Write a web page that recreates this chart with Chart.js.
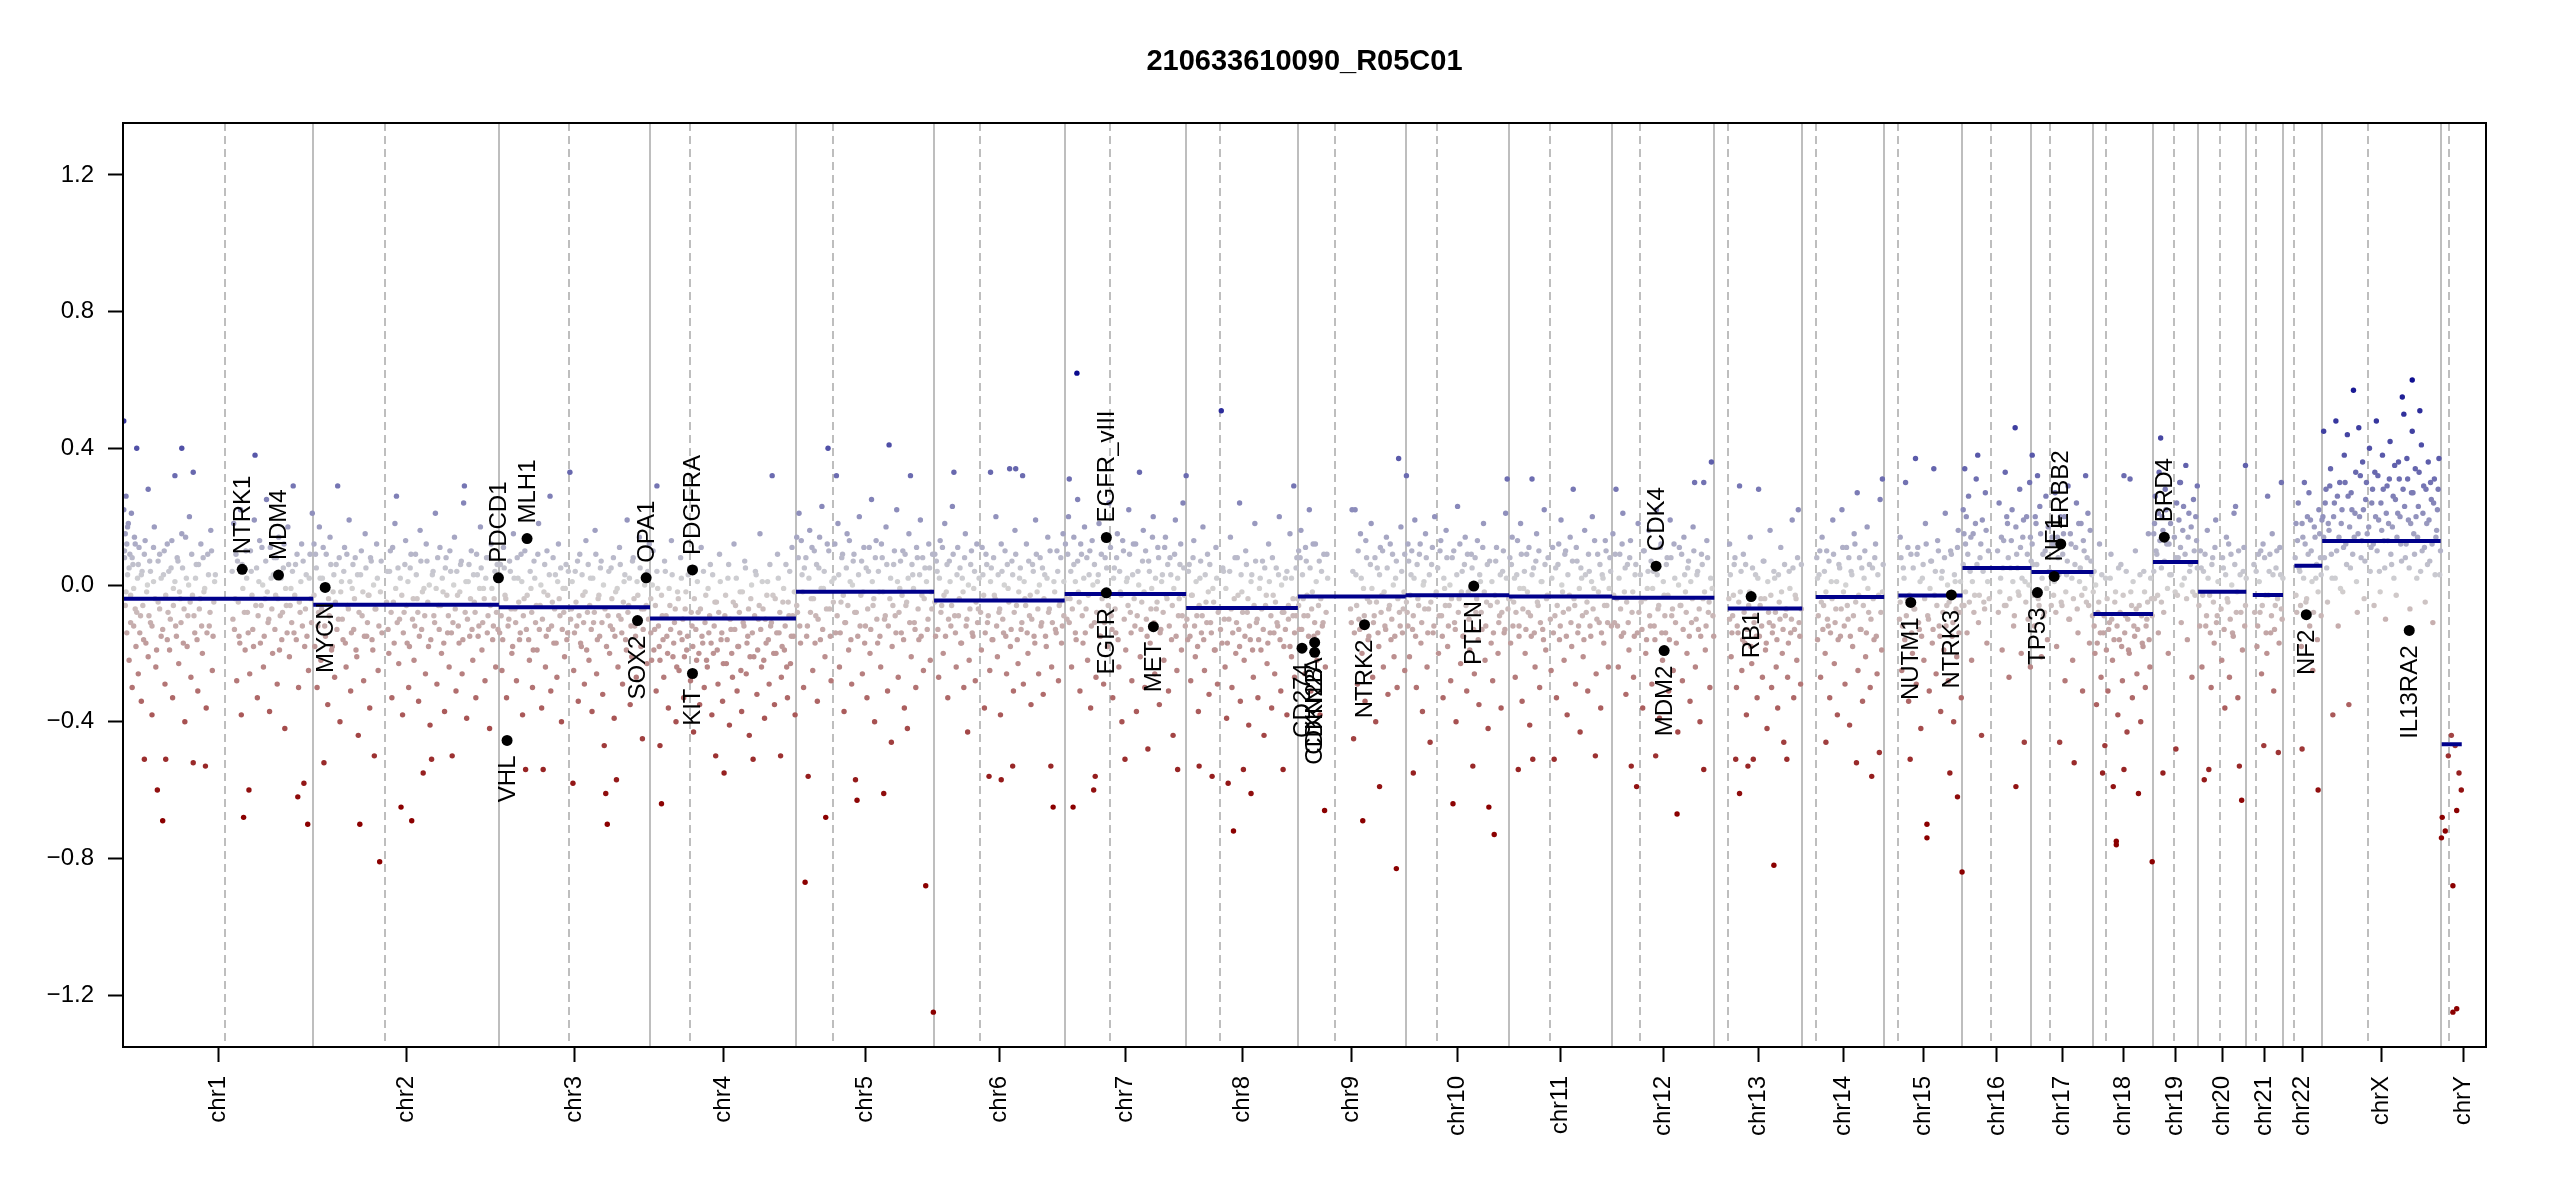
<!DOCTYPE html>
<html>
<head>
<meta charset="utf-8">
<script src="https://cdn.jsdelivr.net/npm/chart.js@4.4.1/dist/chart.umd.min.js"></script>
<style>
html,body{margin:0;padding:0;background:#fff;}
canvas{display:block;}
</style>
</head>
<body>
<canvas id="c" width="2550" height="1200"></canvas>
<script>
// ---------------- DATA ----------------
const chartTitle = "210633610090_R05C01";
const chrNames = ["chr1","chr2","chr3","chr4","chr5","chr6","chr7","chr8","chr9","chr10","chr11","chr12","chr13","chr14","chr15","chr16","chr17","chr18","chr19","chr20","chr21","chr22","chrX","chrY"];
// chromosome lengths (Mb)
const chrLen = [249.25,243.2,198.02,191.15,180.92,171.12,159.14,146.36,141.21,135.53,135.01,133.85,115.17,107.35,102.53,90.35,81.2,78.08,59.13,63.03,48.13,51.3,155.27,59.37];
// centromere (p/q boundary) position within chromosome (Mb)
const chrCentromere = [133.5,93.6,92.1,51.7,48.2,60.2,58.9,44.6,49.0,41.1,53.3,36.1,17.7,17.7,18.5,37.6,24.9,17.0,27.0,29.2,12.7,14.9,60.2,11.3];
const yTickValues = [-1.2,-0.8,-0.4,0,0.4,0.8,1.2];

// segments: chromosome index, start (Mb), end (Mb), log2 ratio
const segChr   = [0,1,2,3,4,5,6,7,8,9,10,11,12,13,14,15,16,17,18,19,20,21,22,23];
const segStart = [0,0,0,0,0,0,0,0,0,0,0,0,17.7,17.7,18.5,0,0,0,0,0,8.5,14.9,0,1.3];
const segEnd   = [249.25,243.2,198.02,191.15,180.92,171.12,159.14,146.36,141.21,135.53,135.01,133.85,115.17,107.35,102.53,90.35,81.2,78.08,59.13,63.03,48.13,51.3,155.27,27.6];
const segValue = [-0.040,-0.058,-0.065,-0.098,-0.020,-0.045,-0.026,-0.067,-0.034,-0.030,-0.034,-0.037,-0.069,-0.035,-0.031,0.050,0.038,-0.085,0.067,-0.020,-0.029,0.056,0.129,-0.466];

// highlighted genes
const geneNames = ["NTRK1","MDM4","MYCN","PDCD1","VHL","MLH1","SOX2","OPA1","PDGFRA","KIT","EGFR_vIII","EGFR","MET","CD274","CDKN2A","CDKN2B","NTRK2","PTEN","CDK4","MDM2","RB1","NUTM1","NTRK3","TP53","NF1","ERBB2","BRD4","NF2","IL13RA2"];
const geneChr   = [0,0,1,1,2,2,2,2,3,3,6,6,6,8,8,8,8,9,11,11,12,14,14,16,16,16,18,21,22];
const genePos   = [156.2,203.7,15.6,242.6,10.7,36.9,181.6,192.9,55.6,55.6,54.6,54.6,116.2,5.4,22.0,22.0,87.3,89.2,57.5,68.1,48.2,34.8,88.0,7.85,29.8,38.4,14.8,30.5,114.1];
const geneValue = [0.046,0.029,-0.007,0.021,-0.455,0.136,-0.104,0.021,0.044,-0.259,0.139,-0.023,-0.122,-0.185,-0.168,-0.197,-0.116,-0.003,0.055,-0.192,-0.034,-0.051,-0.029,-0.022,0.025,0.120,0.140,-0.087,-0.133];

// bins: [position within chromosome (Mb), log2 ratio x100]
const binsChr1 = [[1,48],[1,22],[2,8],[3,15],[3,-6],[4,26],[5,12],[5,-14],[6,3],[7,18],[8,-22],[9,9],[10,-3],[11,21],[12,-30],[13,6],[14,-12],[15,14],[16,-7],[18,40],[17,-18],[19,2],[20,-26],[21,11],[23,-9],[24,-34],[25,4],[27,-16],[28,-51],[29,13],[31,-2],[33,28],[33,-21],[35,7],[36,-11],[38,-38],[40,1],[41,17],[43,-24],[45,-60],[46,-5],[48,9],[50,-15],[52,-69],[53,3],[55,-29],[56,-51],[58,12],[59,-8],[61,-19],[63,5],[65,-33],[66,-1],[68,32],[69,-12],[71,8],[73,-23],[75,-4],[77,40],[77,15],[79,-17],[81,-40],[83,2],[85,-9],[87,20],[89,-27],[91,-3],[92,33],[92,-52],[94,-14],[96,6],[98,-31],[100,-7],[102,12],[104,-20],[106,-2],[108,-53],[109,-36],[111,9],[113,-12],[115,16],[117,-25],[119,-5],[121,3],[144,-10],[145,18],[147,-4],[149,-28],[150,7],[152,-15],[154,22],[155,-38],[157,-1],[158,-68],[160,-19],[161,10],[163,-8],[165,-60],[166,-26],[168,4],[170,-13],[172,19],[173,38],[174,-6],[176,-33],[178,1],[180,-17],[182,11],[184,-24],[186,-4],[188,25],[190,-11],[192,-37],[194,2],[196,-20],[198,8],[200,-3],[202,-29],[204,14],[206,-9],[208,-16],[210,5],[212,-42],[214,-6],[216,17],[218,-21],[220,-1],[223,29],[224,-14],[226,6],[229,-62],[230,-30],[232,-8],[234,12],[237,-58],[238,-18],[240,3],[242,-70],[243,-25],[245,9],[247,-11],[248,21],
[2,10],[4,-2],[6,17],[8,5],[10,-11],[12,8],[14,-1],[16,12],[18,-8],[20,6],[22,-14],[24,3],[26,-6],[28,9],[30,-17],[32,0],[34,-9],[36,4],[38,-12],[40,11],[42,-4],[44,-19],[46,7],[48,-7],[50,2],[52,-13],[54,10],[56,-3],[58,-16],[60,4],[62,-10],[64,13],[66,-6],[68,1],[70,-15],[72,7],[74,-2],[76,-11],[78,5],[80,-7],[82,14],[84,-18],[86,0],[88,-5],[90,9],[93,-9],[95,2],[97,-16],[99,6],[101,-4],[103,-12],[105,8],[107,-1],[110,-14],[112,3],[114,-8],[116,10],[118,-15],[120,1],[143,4],[146,-13],[148,9],[151,-5],[153,-17],[156,6],[159,-8],[162,2],[164,-14],[167,10],[169,-3],[171,-18],[175,5],[177,-9],[179,13],[181,-6],[183,0],[185,-15],[187,7],[189,-2],[191,-10],[193,11],[195,-7],[197,3],[199,-13],[201,8],[203,-4],[205,-19],[207,2],[209,-8],[211,12],[213,-1],[215,-14],[217,6],[219,-6],[221,-11],[222,4],[225,-3],[227,-16],[228,9],[231,-5],[233,1],[235,-12],[236,7],[239,-7],[241,-15],[244,2],[246,-4]];
const binsChr2 = [[1,12],[2,-18],[4,5],[5,-30],[7,-8],[8,17],[10,-22],[12,2],[14,-52],[15,-12],[17,9],[19,-35],[20,-4],[22,14],[24,-19],[26,-2],[28,-27],[30,6],[32,29],[33,-10],[35,-40],[37,1],[39,-16],[41,11],[43,-24],[45,-6],[47,19],[49,-31],[51,-1],[53,-13],[55,8],[57,-21],[59,-44],[61,-70],[62,3],[64,-9],[66,-28],[68,15],[70,-15],[72,-3],[74,-36],[76,7],[78,-19],[80,-50],[81,-7],[83,12],[85,-25],[87,-81],[88,-2],[90,-14],[97,4],[99,-20],[101,10],[103,-33],[105,-5],[107,18],[109,26],[110,-11],[112,-23],[114,2],[115,-65],[117,-38],[119,-8],[121,13],[123,-17],[125,-30],[127,5],[129,-69],[130,-10],[132,-22],[134,9],[136,-4],[138,-34],[140,16],[142,-13],[144,-55],[145,-1],[147,-26],[149,7],[151,-18],[153,-41],[155,-51],[156,3],[158,-9],[160,21],[162,-29],[164,-6],[166,11],[168,-20],[170,-2],[172,-37],[174,8],[176,-14],[178,-24],[180,4],[182,-50],[183,-11],[185,14],[187,-31],[189,-3],[191,-17],[193,6],[195,-26],[197,24],[198,29],[199,-8],[201,-39],[203,1],[205,-15],[207,10],[209,-22],[211,-5],[213,-33],[215,3],[217,-12],[219,17],[221,-19],[223,-1],[225,-28],[227,8],[229,-9],[231,-42],[233,12],[235,-16],[237,-4],[239,-24],[241,6],[242,-13],
[1,-3],[3,9],[6,-12],[9,2],[11,-7],[13,11],[16,-15],[18,0],[21,-9],[23,6],[25,-18],[27,3],[29,-5],[31,-13],[34,8],[36,-2],[38,-10],[40,4],[42,-17],[44,9],[46,-7],[48,1],[50,-14],[52,6],[54,-4],[56,-19],[58,3],[60,-8],[63,10],[65,-2],[67,-15],[69,5],[71,-11],[73,-3],[75,8],[77,-16],[79,0],[82,-7],[84,2],[86,-12],[89,7],[96,-5],[98,-13],[100,4],[102,-8],[104,11],[106,-17],[108,-1],[111,5],[113,-10],[116,-3],[118,-14],[120,6],[122,-6],[124,1],[126,-18],[128,9],[131,-4],[133,-12],[135,3],[137,-8],[139,-15],[141,7],[143,-2],[146,-9],[148,12],[150,-5],[152,0],[154,-16],[157,4],[159,-11],[161,-1],[163,8],[165,-13],[167,-6],[169,2],[171,-17],[173,5],[175,-3],[177,-9],[179,10],[181,-14],[184,0],[186,-7],[188,4],[190,-12],[192,-2],[194,7],[196,-16],[200,1],[202,-10],[204,6],[206,-4],[208,-13],[210,3],[212,-8],[214,9],[216,-15],[218,-1],[220,5],[222,-11],[224,-4],[226,2],[228,-14],[230,8],[232,-6],[234,-1],[236,-12],[238,4],[240,-8]];
const binsChr3 = [[1,-14],[2,6],[4,-25],[6,11],[8,-3],[10,-33],[11,-45],[13,-10],[15,4],[17,-20],[19,15],[21,-7],[23,-28],[25,2],[27,-16],[29,9],[31,-38],[33,-4],[35,-54],[36,-13],[38,14],[40,-22],[42,-1],[44,-30],[46,7],[48,-11],[50,-19],[52,18],[54,-6],[56,-36],[58,-54],[59,-2],[61,-24],[63,10],[65,-13],[67,26],[68,-31],[70,-5],[72,-17],[74,3],[76,-27],[78,12],[80,-9],[82,-40],[84,-1],[86,-21],[88,6],[90,-14],[93,33],[95,-7],[97,-58],[98,-25],[100,4],[102,-12],[104,-34],[106,9],[108,-18],[110,-3],[112,-29],[114,13],[116,-8],[118,-22],[120,2],[122,-37],[124,-11],[126,16],[128,-26],[130,-4],[132,-15],[134,7],[136,-32],[138,-47],[140,-61],[142,-70],[143,-9],[145,-20],[147,5],[149,-13],[151,-39],[153,-2],[154,-57],[156,-24],[158,11],[160,-10],[162,-29],[164,1],[166,-16],[168,19],[170,-6],[172,-35],[174,-21],[176,8],[178,-12],[180,-27],[182,-3],[184,14],[186,-18],[188,-45],[190,-7],[192,3],[194,-23],[196,-10],[197,12],
[1,3],[3,-9],[5,-16],[7,5],[9,-4],[12,-12],[14,7],[16,-7],[18,-18],[20,2],[22,-11],[24,8],[26,-5],[28,-14],[30,1],[32,-9],[34,10],[37,-3],[39,-16],[41,4],[43,-8],[45,-19],[47,2],[49,-6],[51,9],[53,-13],[55,0],[57,-10],[60,6],[62,-15],[64,-3],[66,3],[69,-12],[71,8],[73,-7],[75,-17],[77,1],[79,-4],[81,5],[83,-13],[85,-8],[87,-1],[89,-16],[91,4],[94,-10],[96,1],[99,-14],[101,-5],[103,7],[105,-9],[107,-17],[109,3],[111,-11],[113,-2],[115,-19],[117,6],[119,-6],[121,-13],[123,2],[125,-8],[127,9],[129,-16],[131,-3],[133,5],[135,-11],[137,0],[139,-7],[141,-18],[144,4],[146,-12],[148,-4],[150,8],[152,-15],[155,-1],[157,-9],[159,6],[161,-14],[163,-5],[165,3],[167,-19],[169,-8],[171,2],[173,-12],[175,7],[177,-4],[179,-15],[181,1],[183,-10],[185,5],[187,-7],[189,-13],[191,0],[193,-6],[195,4]];
const binsChr4 = [[1,-4],[2,-22],[4,10],[6,-13],[8,-31],[9,29],[10,-1],[12,-18],[13,-47],[15,-64],[16,-9],[18,-27],[20,4],[22,-15],[24,-36],[26,-6],[28,13],[30,-21],[32,-11],[34,-40],[36,-2],[38,-25],[40,8],[42,-16],[44,-33],[46,-7],[48,-19],[50,3],[53,-28],[55,-12],[57,-43],[59,5],[61,-22],[63,-8],[65,-35],[67,11],[69,-17],[71,-30],[73,-3],[75,-24],[77,-14],[79,6],[81,-38],[83,-20],[86,-50],[87,-5],[89,-29],[91,9],[93,-16],[95,-34],[97,-55],[98,-9],[100,-23],[102,2],[104,-41],[106,-13],[108,-27],[110,12],[112,-6],[114,-31],[116,-18],[118,-2],[120,-37],[122,-11],[124,7],[126,-26],[128,-15],[130,-44],[132,-4],[135,-51],[136,-21],[138,4],[140,-32],[142,-10],[144,15],[146,-24],[148,-7],[150,-39],[152,-17],[154,1],[156,-29],[158,-12],[160,32],[161,-3],[163,-35],[165,-20],[167,9],[169,-14],[171,-50],[172,-27],[174,-5],[176,-19],[178,6],[180,-33],[182,-9],[184,-23],[186,11],[188,-15],[190,-38],
[1,-14],[3,0],[5,-19],[7,-6],[9,4],[11,-12],[13,-22],[15,-3],[17,-16],[19,7],[21,-9],[23,-20],[25,-1],[27,-13],[29,3],[31,-17],[33,-7],[35,-24],[37,-4],[39,-14],[41,2],[43,-10],[45,-21],[47,-2],[49,-15],[52,5],[54,-8],[56,-18],[58,-4],[60,-13],[62,1],[64,-20],[66,-7],[68,-15],[70,4],[72,-11],[74,-22],[76,-1],[78,-9],[80,-17],[82,3],[84,-12],[85,-5],[88,-19],[90,-8],[92,1],[94,-14],[96,-23],[99,-3],[101,-16],[103,6],[105,-10],[107,-20],[109,-5],[111,-13],[113,2],[115,-18],[117,-8],[119,-25],[121,-2],[123,-12],[125,5],[127,-17],[129,-7],[131,-21],[133,0],[134,-14],[137,-9],[139,3],[141,-19],[143,-6],[145,-13],[147,1],[149,-22],[151,-10],[153,-3],[155,-16],[157,6],[159,-11],[162,-20],[164,-4],[166,-14],[168,2],[170,-8],[173,-18],[175,-1],[177,-12],[179,-24],[181,-5],[183,4],[185,-15],[187,-9],[189,-2]];
const binsChr5 = [[1,14],[2,-8],[4,21],[6,-17],[8,3],[10,-30],[12,-87],[13,8],[15,-12],[16,-56],[18,16],[20,-4],[22,-25],[24,10],[26,-9],[28,-34],[30,5],[32,-16],[34,23],[36,-1],[38,-21],[39,-68],[41,12],[42,40],[44,-7],[46,-28],[50,2],[52,-14],[53,32],[55,18],[57,-24],[59,-5],[61,9],[63,-37],[65,-11],[67,15],[69,-19],[71,1],[73,-29],[75,7],[77,-8],[78,-57],[80,-63],[81,-15],[83,20],[85,-3],[87,-26],[89,11],[91,-12],[93,-33],[95,4],[97,-20],[99,25],[101,-6],[103,-40],[105,13],[107,-17],[109,-2],[111,-24],[113,8],[115,-61],[116,-10],[118,17],[120,-31],[122,41],[123,-4],[125,-46],[126,-18],[128,6],[130,-9],[132,22],[134,-27],[136,-1],[138,-14],[140,10],[142,-36],[144,-6],[146,-42],[148,15],[150,32],[151,-21],[153,3],[155,-11],[157,-30],[159,8],[161,-16],[163,19],[165,-3],[167,-25],[169,5],[170,-88],[172,-13],[174,12],[176,-22],[178,-7],[180,-125],
[1,-6],[3,8],[5,-12],[7,13],[9,-2],[11,5],[14,-15],[17,2],[19,-8],[21,11],[23,-4],[25,-17],[27,6],[29,-10],[31,14],[33,-1],[35,-13],[37,4],[40,-7],[43,10],[45,-15],[47,1],[49,-5],[51,12],[54,-9],[56,3],[58,-14],[60,8],[62,-3],[64,-11],[66,5],[68,-6],[70,13],[72,-16],[74,0],[76,9],[79,-8],[82,3],[84,-12],[86,7],[88,-2],[90,-17],[92,5],[94,-7],[96,11],[98,-13],[100,1],[102,-4],[104,8],[106,-10],[108,4],[110,-15],[112,12],[114,-2],[117,-9],[119,6],[121,-12],[124,2],[127,-6],[129,10],[131,-14],[133,1],[135,-8],[137,7],[139,-3],[141,-16],[143,9],[145,-5],[147,2],[149,-11],[152,6],[154,-1],[156,-13],[158,11],[160,-7],[162,3],[164,-15],[166,8],[168,-4],[171,1],[173,-10],[175,5],[177,-2],[179,9]];
const binsChr6 = [[1,9],[2,-15],[4,4],[6,-27],[8,13],[10,-6],[12,-20],[14,18],[16,-2],[18,-33],[20,7],[22,-12],[24,23],[26,33],[27,-9],[29,-24],[31,11],[33,-4],[35,-17],[37,2],[39,-30],[41,15],[43,-10],[44,-43],[46,-22],[48,6],[50,-14],[52,-1],[54,-28],[56,12],[58,-7],[62,-19],[64,3],[66,-36],[68,9],[70,-11],[72,-56],[73,-25],[74,33],[75,5],[77,-16],[79,-3],[81,20],[83,-21],[85,-8],[87,-38],[88,-57],[89,4],[91,-14],[93,10],[95,-26],[97,-1],[99,34],[100,-18],[102,7],[103,-53],[104,-31],[106,16],[107,34],[108,-6],[110,-23],[112,2],[114,-13],[116,32],[117,-29],[119,-4],[121,12],[123,-20],[125,-9],[127,-35],[129,6],[131,-15],[133,19],[135,-2],[137,-26],[139,8],[141,-11],[143,-32],[145,3],[147,-18],[149,14],[151,-7],[153,-53],[154,-24],[156,-65],[157,1],[159,-13],[161,10],[163,-28],[165,-5],[167,-17],[169,15],[170,-9],
[1,-5],[3,7],[5,-13],[7,2],[9,-8],[11,11],[13,-3],[15,-15],[17,6],[19,-10],[21,1],[23,-6],[25,9],[28,-14],[30,3],[32,-9],[34,5],[36,-17],[38,-2],[40,8],[42,-12],[45,0],[47,-7],[49,10],[51,-15],[53,4],[55,-5],[57,-11],[59,2],[61,-8],[63,11],[65,-3],[67,-14],[69,6],[71,-9],[74,1],[76,-16],[78,8],[80,-4],[82,-12],[84,3],[86,-7],[88,12],[90,-10],[92,0],[94,-15],[96,6],[98,-5],[101,-13],[103,3],[105,-8],[107,9],[109,-16],[111,-2],[113,5],[115,-11],[118,1],[120,-6],[122,-14],[124,7],[126,-3],[128,-10],[130,4],[132,-17],[134,9],[136,-7],[138,0],[140,-12],[142,5],[144,-4],[146,-15],[148,2],[150,-8],[152,10],[155,-11],[158,-2],[160,-14],[162,4],[164,-6],[166,8],[168,-12],[170,1]];
const binsChr7 = [[1,12],[3,-10],[5,20],[6,31],[7,-4],[9,-24],[11,-65],[12,6],[14,-14],[16,62],[17,25],[18,-2],[20,-31],[22,9],[24,-17],[26,17],[28,-7],[30,-22],[32,3],[34,-36],[36,13],[38,-60],[39,-11],[40,-56],[41,-27],[43,1],[45,18],[47,-15],[49,-4],[51,-29],[53,8],[56,-18],[58,24],[61,-9],[63,-33],[65,5],[67,-14],[69,15],[71,-24],[73,-2],[75,-40],[77,10],[79,-51],[80,-19],[82,2],[84,22],[86,-8],[88,-28],[90,12],[92,-12],[94,-37],[96,4],[98,33],[99,-21],[101,-5],[103,16],[105,-30],[107,-10],[109,-48],[110,7],[112,-17],[114,-1],[116,20],[118,-26],[120,-7],[122,11],[124,-35],[126,-13],[128,3],[130,-22],[132,14],[134,-4],[136,-31],[138,8],[140,-16],[142,-44],[143,-1],[145,19],[147,-25],[148,-54],[149,-9],[151,6],[153,-19],[155,24],[157,-3],[158,-12],
[2,-4],[4,9],[6,-11],[8,4],[10,-7],[12,14],[14,1],[15,-16],[17,7],[19,-5],[21,12],[23,-9],[25,2],[27,-14],[29,8],[31,-3],[33,10],[35,-12],[37,0],[39,6],[42,-8],[44,3],[46,-15],[48,9],[50,-2],[52,-11],[55,5],[57,-6],[60,11],[62,-13],[64,2],[66,-7],[68,8],[70,-16],[72,4],[74,-3],[76,13],[78,-10],[81,1],[83,-6],[85,9],[87,-14],[89,3],[91,-4],[93,12],[95,-9],[97,0],[100,-13],[102,7],[104,-2],[106,10],[108,-15],[111,4],[113,-7],[115,14],[117,-11],[119,2],[121,-5],[123,8],[125,-14],[127,1],[129,-8],[131,11],[133,-3],[135,6],[137,-12],[139,3],[141,-6],[144,9],[146,-15],[148,2],[150,-4],[152,12],[154,-9],[156,5]];
const binsChr8 = [[0,32],[2,-16],[4,6],[6,-28],[8,-3],[10,13],[12,-21],[14,-9],[16,-37],[17,-53],[18,2],[20,-14],[22,17],[24,-25],[26,-5],[28,9],[30,-32],[32,-11],[34,-56],[35,-1],[37,-19],[39,11],[41,-29],[43,-7],[46,51],[47,-17],[49,4],[51,-24],[53,-39],[55,-58],[56,-10],[58,14],[60,-30],[62,-72],[63,-4],[65,-20],[67,8],[69,-13],[70,24],[71,-34],[73,-2],[75,-54],[76,-22],[78,10],[80,-8],[82,-41],[84,-16],[85,-61],[86,3],[88,-27],[90,18],[92,-11],[94,-33],[96,-1],[98,-19],[100,7],[102,-44],[104,-6],[106,-23],[108,12],[110,-14],[112,-36],[114,-3],[116,-26],[118,5],[120,-12],[122,20],[124,-31],[126,-8],[127,-54],[128,-18],[130,2],[132,-38],[134,-10],[136,15],[138,-21],[140,-4],[141,29],[142,-27],[144,-9],[145,8],
[1,-10],[3,4],[5,-15],[7,-3],[9,8],[11,-12],[13,1],[15,-18],[17,-6],[19,7],[21,-9],[23,-16],[25,3],[27,-11],[29,-2],[31,6],[33,-14],[36,-5],[38,-19],[40,2],[42,-8],[45,-13],[48,5],[50,-10],[52,-1],[54,-17],[57,4],[59,-7],[61,-14],[64,8],[66,-11],[68,-3],[70,-18],[72,3],[74,-8],[77,-15],[79,6],[81,-4],[83,-12],[85,1],[87,-19],[89,-6],[91,7],[93,-10],[95,-16],[97,2],[99,-7],[101,-13],[103,5],[105,-3],[107,-17],[109,1],[111,-9],[113,8],[115,-14],[117,-5],[119,-11],[121,3],[123,-16],[125,0],[128,-8],[130,-13],[132,4],[134,-6],[136,-18],[138,2],[140,-9],[142,-14],[144,5],[146,-4]];
const binsChr9 = [[1,10],[2,-13],[4,16],[5,-19],[7,-4],[9,-26],[11,7],[13,-9],[15,22],[17,-31],[19,-2],[21,-15],[23,12],[25,-22],[27,-6],[29,-38],[31,4],[33,-11],[35,-66],[36,-24],[38,9],[69,-7],[71,22],[73,-45],[74,-14],[75,22],[76,3],[78,-29],[80,-10],[82,15],[84,-20],[85,-69],[86,-1],[88,-34],[90,8],[92,-16],[94,-5],[96,18],[98,-27],[100,-9],[102,-40],[104,5],[106,-18],[107,-59],[108,11],[110,-3],[112,-24],[114,-12],[116,14],[118,-32],[120,-6],[122,-16],[124,9],[126,-21],[128,2],[129,-83],[130,-30],[132,37],[133,-8],[135,17],[137,-14],[139,-2],[140,-25],
[1,-6],[3,8],[5,-13],[6,3],[8,-9],[10,11],[12,-3],[14,-15],[16,5],[18,-7],[20,12],[22,-11],[24,1],[26,-14],[28,7],[30,-4],[32,-12],[34,9],[37,-8],[39,2],[70,-11],[72,4],[77,-6],[79,10],[81,-13],[83,2],[87,-9],[89,13],[91,-4],[93,-15],[95,6],[97,-1],[99,-11],[101,8],[103,-5],[105,-14],[107,3],[109,-8],[111,10],[113,-2],[115,-13],[117,5],[119,-7],[121,12],[123,-10],[125,0],[127,-15],[129,7],[131,-4],[134,-12],[136,4],[138,-7],[140,9]];
const binsChr10 = [[1,32],[2,-8],[3,12],[5,-21],[7,3],[9,-13],[10,-55],[12,19],[14,-30],[16,-4],[18,9],[20,-17],[22,-37],[24,1],[26,15],[28,-24],[30,-7],[32,-46],[34,6],[36,-14],[38,20],[39,-3],[43,-20],[45,10],[47,-9],[49,-33],[51,-1],[53,16],[55,-18],[57,-6],[59,-28],[61,8],[62,-64],[64,-11],[66,-40],[68,23],[70,-4],[72,-23],[74,4],[76,-15],[78,14],[80,-31],[82,-2],[84,-19],[86,9],[88,-53],[90,-26],[92,-8],[94,13],[96,-35],[98,1],[100,-13],[102,18],[104,-22],[106,-5],[108,-42],[109,-65],[110,7],[112,-17],[114,-28],[116,-73],[117,-3],[119,11],[121,-20],[123,-9],[125,-36],[127,4],[129,-14],[131,21],[133,31],[134,-7],
[1,-5],[3,-12],[4,7],[6,-3],[8,10],[10,-9],[11,2],[13,-15],[15,6],[17,-6],[19,12],[21,-11],[23,0],[25,-7],[27,8],[29,-14],[31,3],[33,-5],[35,11],[37,-12],[40,-2],[42,5],[44,-9],[46,13],[48,-15],[50,2],[52,-6],[54,8],[56,-12],[58,0],[60,-4],[63,10],[65,-13],[67,3],[69,-8],[71,12],[73,-2],[75,-15],[77,6],[79,-6],[81,9],[83,-10],[85,-1],[87,5],[89,-13],[91,8],[93,-4],[95,-16],[97,3],[99,-8],[101,11],[103,-2],[105,-12],[107,6],[111,-6],[113,1],[115,-14],[118,7],[120,-5],[122,-11],[124,3],[126,-8],[128,10],[130,-13],[132,2],[135,-4]];
const binsChr11 = [[1,8],[2,-17],[4,14],[6,-5],[8,-27],[10,3],[12,-54],[13,-12],[15,18],[17,-34],[19,-1],[21,-20],[23,9],[25,-8],[27,-41],[29,-15],[30,31],[31,-51],[32,5],[34,-24],[36,15],[38,-6],[40,-30],[42,1],[44,-13],[46,22],[48,-19],[50,-3],[55,-25],[57,11],[59,-51],[60,-9],[62,-33],[64,6],[66,-16],[68,19],[70,-2],[72,-22],[74,10],[76,-38],[78,-7],[80,14],[82,-18],[84,28],[85,-4],[87,-29],[89,7],[91,-12],[93,-43],[95,2],[97,-21],[99,16],[101,-8],[103,-31],[105,4],[107,-15],[109,20],[111,-1],[113,-50],[114,-26],[116,9],[118,-11],[120,-36],[122,3],[124,-17],[126,13],[128,-6],[130,-24],[132,8],[134,-12],
[1,-4],[3,6],[5,-12],[7,2],[9,-8],[11,13],[13,-15],[14,-1],[16,9],[18,-7],[20,4],[22,-13],[24,-2],[26,11],[28,-9],[30,3],[33,-14],[35,7],[37,-5],[39,10],[41,-11],[43,1],[45,-16],[47,6],[49,-4],[51,8],[54,-10],[56,2],[58,-14],[61,5],[63,-6],[65,12],[67,-12],[69,0],[71,-8],[73,9],[75,-15],[77,3],[79,-3],[81,-11],[83,7],[86,-6],[88,11],[90,-14],[92,-1],[94,5],[96,-9],[98,-16],[100,3],[102,-5],[104,9],[106,-12],[108,1],[110,-7],[112,13],[115,-10],[117,-2],[119,6],[121,-14],[123,2],[125,-6],[127,10],[129,-11],[131,-1],[133,4]];
const binsChr12 = [[1,15],[3,-11],[5,28],[6,-4],[8,-24],[10,9],[12,-15],[14,21],[16,-2],[18,-32],[20,6],[22,-19],[24,13],[25,-53],[26,-8],[28,-27],[30,3],[32,-59],[33,-14],[34,18],[38,-5],[40,-36],[42,10],[44,-20],[46,-1],[48,16],[50,-12],[52,-29],[54,4],[56,-16],[57,-50],[58,22],[60,-7],[62,-39],[64,12],[66,-22],[68,-3],[70,-14],[72,8],[74,-31],[76,19],[78,-9],[80,-25],[82,2],[84,-17],[85,-67],[86,-43],[88,11],[90,-6],[92,-28],[94,14],[96,-2],[98,-20],[100,7],[102,-34],[104,-11],[106,17],[108,30],[109,-24],[111,3],[113,-13],[115,-40],[117,9],[119,-4],[120,30],[120,-54],[122,-19],[124,13],[126,-8],[128,-30],[130,36],[131,-1],[133,-15],
[2,-3],[4,9],[7,-12],[9,2],[11,-7],[13,12],[15,-14],[17,5],[19,-5],[21,-11],[23,8],[27,-2],[29,-15],[31,6],[35,-8],[37,3],[39,-13],[41,10],[43,-4],[45,-16],[47,4],[49,-9],[51,7],[53,-1],[55,-12],[59,3],[61,-6],[63,11],[65,-14],[67,1],[69,-9],[71,6],[73,-3],[75,-16],[77,8],[79,-7],[81,12],[83,-11],[87,0],[89,-6],[91,9],[93,-13],[95,3],[97,-8],[99,5],[101,-15],[103,1],[105,-4],[107,10],[110,-10],[112,4],[114,-7],[116,-15],[118,6],[121,-2],[123,-12],[125,8],[127,-5],[129,2],[132,-9]];
const binsChr13 = [[19,-4],[20,12],[22,-21],[24,-9],[26,6],[28,-51],[29,-30],[31,-14],[33,29],[33,-61],[34,-2],[36,-25],[38,9],[40,-17],[42,-38],[44,-53],[45,-6],[47,14],[49,-23],[51,-51],[52,-11],[54,3],[56,-33],[58,28],[59,-15],[61,-4],[63,-27],[65,7],[67,-19],[69,-42],[71,-8],[73,16],[75,-30],[77,-12],[78,-82],[79,2],[81,-24],[83,-36],[85,-5],[87,11],[89,-20],[91,-46],[93,-9],[95,-51],[96,-27],[98,4],[100,-14],[102,19],[104,-33],[106,-3],[108,-22],[110,22],[111,-11],[113,-29],[114,6],
[20,-10],[21,3],[23,-14],[25,-3],[27,8],[30,-12],[32,-5],[35,4],[37,-16],[39,-8],[41,6],[43,-13],[46,-2],[48,-18],[50,5],[53,-9],[55,-15],[57,2],[60,-6],[62,-12],[64,7],[66,-4],[68,-17],[70,1],[72,-11],[74,-3],[76,-14],[78,4],[80,-8],[82,-16],[84,3],[86,-10],[88,-2],[90,-13],[92,6],[94,-7],[97,-17],[99,-1],[101,-10],[103,5],[105,-13],[107,-4],[109,8],[112,-15],[114,-7]];
const binsChr14 = [[19,8],[20,-16],[22,3],[24,-27],[26,14],[28,-6],[30,-20],[31,-46],[32,10],[34,-12],[36,-33],[38,1],[40,19],[42,-23],[44,-7],[46,-38],[48,6],[50,-15],[52,22],[54,-2],[56,-29],[58,11],[60,-10],[62,-41],[64,4],[66,-18],[68,15],[70,-5],[71,-52],[72,27],[73,-25],[75,8],[77,-13],[79,-34],[81,2],[83,-21],[85,17],[87,-8],[89,-30],[91,-56],[92,5],[94,-16],[96,12],[98,-26],[100,-3],[101,-49],[102,25],[104,-19],[105,31],[106,6],
[20,2],[21,-9],[23,10],[25,-5],[27,-13],[29,4],[31,-2],[33,-10],[35,7],[37,-14],[39,-4],[41,9],[43,-11],[45,1],[47,-16],[49,5],[51,-7],[53,11],[55,-12],[57,0],[59,-6],[61,8],[63,-15],[65,3],[67,-9],[69,12],[74,-3],[76,-13],[78,5],[80,-6],[82,10],[84,-14],[86,-1],[88,6],[90,-10],[93,-4],[95,8],[97,-15],[99,3],[103,-8],[105,-2]];
const binsChr15 = [[20,-10],[21,14],[23,-25],[25,5],[27,-16],[28,30],[30,-4],[32,-34],[34,-51],[35,9],[37,-20],[39,-7],[41,37],[42,-29],[44,11],[46,-13],[48,-42],[50,2],[52,-22],[54,18],[56,-70],[56,-74],[57,-9],[59,-31],[61,7],[63,-17],[65,34],[66,-3],[68,-26],[70,13],[72,-12],[74,-37],[76,4],[78,-19],[80,21],[82,-6],[84,-28],[86,-55],[87,10],[89,-15],[91,-40],[93,1],[95,-21],[96,-62],[97,16],[99,-8],[101,-33],[102,-84],
[21,-5],[22,8],[24,-12],[26,2],[29,-9],[31,11],[33,-3],[36,-14],[38,5],[40,-7],[43,9],[45,-11],[47,1],[49,-15],[51,6],[53,-4],[55,12],[58,-10],[60,-1],[62,7],[64,-13],[67,4],[69,-6],[71,10],[73,-15],[75,2],[77,-8],[79,8],[81,-12],[83,0],[85,-5],[88,9],[90,-11],[92,3],[94,-7],[96,11],[98,-14],[100,1],[102,-6]];
const binsChr16 = [[1,22],[2,-6],[3,34],[4,12],[6,-14],[8,26],[10,4],[12,-22],[14,15],[16,-3],[18,31],[20,38],[21,-11],[23,8],[25,-44],[26,19],[28,-5],[30,27],[32,-17],[34,10],[47,-8],[48,24],[50,2],[52,-19],[54,13],[56,33],[57,-6],[59,18],[61,-27],[63,5],[65,22],[67,-12],[69,46],[70,-59],[71,9],[73,-2],[75,28],[77,-20],[79,14],[81,-46],[82,1],[84,20],[86,-10],[88,30],[89,-24],[90,7],
[1,6],[2,15],[4,-2],[5,20],[7,9],[9,-5],[11,14],[13,1],[15,-8],[17,18],[19,6],[22,-3],[24,12],[27,4],[29,-7],[31,16],[33,1],[35,-4],[46,10],[49,-2],[51,14],[53,5],[55,-6],[58,20],[60,8],[62,-4],[64,13],[66,1],[68,-9],[70,17],[72,5],[74,-3],[76,11],[78,2],[80,19],[83,-5],[85,9],[87,0],[89,14]];
const binsChr17 = [[1,38],[2,6],[4,-12],[6,18],[8,32],[9,-4],[11,23],[13,-21],[15,9],[17,-8],[19,26],[21,-16],[23,4],[27,14],[29,-3],[31,27],[33,-18],[35,8],[37,-46],[38,20],[40,-6],[42,15],[44,-28],[46,3],[48,29],[50,-10],[52,12],[54,-22],[56,-52],[57,6],[59,24],[61,-14],[63,1],[65,18],[67,-31],[69,10],[71,32],[72,-5],[74,21],[76,-17],[78,7],[80,-9],
[1,12],[3,-3],[5,20],[7,6],[10,-6],[12,15],[14,2],[16,-9],[18,10],[20,-1],[22,17],[24,4],[26,-6],[28,12],[30,1],[32,-8],[34,14],[36,3],[39,-5],[41,9],[43,20],[45,-2],[47,7],[49,-10],[51,15],[53,2],[55,-4],[58,11],[60,-7],[62,18],[64,5],[66,-3],[68,13],[70,-1],[73,8],[75,-6],[77,16],[79,3],[81,-2]];
const binsChr18 = [[1,4],[2,-20],[4,-35],[6,-8],[8,12],[10,-27],[12,-55],[13,-14],[15,-47],[16,2],[19,-31],[21,-11],[23,9],[25,-22],[26,-59],[28,-5],[30,-75],[30,-76],[32,-38],[34,-16],[36,6],[38,-28],[40,32],[40,-54],[42,-9],[44,-43],[46,-19],[48,31],[49,-2],[51,-33],[53,-12],[55,10],[57,-26],[59,-61],[60,-6],[62,-40],[64,-17],[66,4],[68,-30],[70,-10],[72,15],[74,-24],[76,-4],[77,-81],
[1,-12],[3,0],[5,-17],[7,-5],[9,-14],[11,3],[14,-9],[17,-19],[18,-4],[20,-13],[22,2],[24,-10],[27,-16],[29,-2],[31,-12],[33,5],[35,-8],[37,-18],[39,-3],[41,-14],[43,4],[45,-10],[47,-20],[50,-6],[52,1],[54,-15],[56,-7],[58,-13],[61,3],[63,-9],[65,-18],[67,-2],[69,-12],[71,-5],[73,-16],[75,2],[77,-9]];
const binsChr19 = [[1,15],[2,-4],[3,26],[5,9],[7,-14],[8,33],[10,43],[11,5],[12,20],[13,-55],[14,-8],[16,28],[18,12],[20,-20],[22,3],[23,18],[29,-2],[30,-48],[31,24],[33,8],[35,30],[36,30],[37,-11],[39,16],[41,2],[43,35],[45,-16],[47,21],[49,6],[51,-27],[53,25],[55,-3],[57,13],[58,29],
[1,4],[2,18],[4,10],[6,-3],[7,21],[9,13],[11,-5],[13,16],[15,7],[17,22],[19,-1],[21,12],[24,3],[28,14],[30,8],[32,-3],[34,19],[36,11],[38,0],[40,23],[42,9],[44,-4],[46,14],[48,4],[50,17],[52,-2],[54,10],[56,20],[58,5]];
const binsChr20 = [[1,-6],[3,10],[5,-24],[7,4],[8,-57],[10,-12],[12,16],[14,-54],[15,-3],[17,-30],[19,8],[21,-17],[23,19],[25,-9],[31,-22],[33,5],[35,-36],[37,14],[39,-5],[41,-27],[43,9],[45,-14],[47,21],[49,23],[50,-8],[52,-33],[54,-53],[55,3],[57,-63],[58,-19],[60,11],[62,35],[62,-6],
[2,-12],[4,5],[6,-3],[9,9],[11,-9],[13,2],[16,-14],[18,6],[20,-5],[22,11],[24,-11],[26,1],[30,-7],[32,8],[34,-13],[36,3],[38,-4],[40,12],[42,-10],[44,0],[46,-15],[48,6],[51,-2],[53,10],[56,-8],[59,4],[61,-12],[63,2]];
const binsChr21 = [[10,6],[14,-18],[16,9],[18,-8],[20,-26],[22,12],[23,-47],[25,-3],[27,-20],[28,26],[30,4],[32,-14],[34,15],[36,-31],[38,-6],[40,10],[42,-49],[43,-17],[45,3],[46,30],[47,-10],
[11,-8],[13,4],[15,-12],[17,1],[19,10],[21,-6],[24,8],[26,-14],[29,-3],[31,9],[33,-9],[35,3],[37,-13],[39,5],[41,-4],[44,11],[46,-7],[48,2]];
const binsChr22 = [[17,18],[18,-8],[20,24],[22,4],[24,-18],[25,-48],[26,14],[28,30],[30,-5],[32,20],[34,27],[35,-12],[37,10],[39,-25],[41,17],[43,2],[45,-16],[46,-60],[47,22],[49,8],[50,-9],[51,19],
[16,8],[17,-3],[19,13],[21,5],[23,-6],[25,18],[27,2],[29,12],[31,-4],[33,9],[36,19],[38,1],[40,-8],[42,14],[44,6],[46,-2],[48,15],[50,3]];
const binsChrX = [[1,20],[2,45],[3,8],[5,28],[7,-5],[9,16],[11,34],[13,2],[14,-38],[16,24],[18,48],[19,10],[21,-12],[23,30],[25,18],[27,-2],[29,38],[31,12],[33,44],[34,26],[35,-35],[37,5],[39,22],[41,57],[42,14],[44,33],[46,-8],[48,46],[49,20],[51,8],[53,36],[55,-4],[57,25],[59,15],[62,40],[64,11],[66,28],[68,-6],[70,20],[71,48],[73,32],[75,4],[77,24],[79,38],[81,13],[83,-10],[85,29],[87,18],[89,42],[91,6],[93,26],[95,35],[97,-3],[99,21],[101,31],[103,12],[105,55],[106,28],[107,50],[109,8],[111,37],[113,19],[115,-7],[117,27],[118,60],[118,45],[120,15],[122,34],[124,2],[126,23],[128,51],[130,41],[131,10],[133,29],[135,-5],[137,18],[139,36],[141,7],[143,25],[145,-11],[147,31],[149,14],[151,22],[153,37],[154,3],
[2,14],[4,24],[6,5],[8,18],[10,29],[12,9],[15,20],[17,2],[20,26],[22,14],[24,-1],[26,22],[28,11],[30,30],[32,6],[36,17],[38,27],[40,9],[43,21],[45,1],[47,15],[50,32],[52,13],[54,22],[56,7],[58,30],[61,17],[63,4],[65,24],[67,12],[69,33],[72,10],[74,19],[76,-2],[78,16],[80,28],[82,5],[84,21],[86,13],[88,31],[90,9],[92,17],[94,2],[96,25],[98,14],[100,36],[102,20],[104,7],[108,23],[110,12],[112,31],[114,5],[116,18],[119,27],[121,9],[123,20],[125,14],[127,33],[129,4],[132,21],[134,11],[136,28],[138,6],[140,19],[142,30],[144,12],[146,24],[148,3],[150,16],[152,28],[155,10]];
const binsChrY = [[2,-68],[1,-74],[6,-72],[10,-50],[14,-44],[16,-88],[16,-125],[21,-124],[21,-66],[24,-55],[27,-60],[19,-47]];

// ---------------- BUILD ----------------
const chrBins = [binsChr1,binsChr2,binsChr3,binsChr4,binsChr5,binsChr6,binsChr7,binsChr8,binsChr9,binsChr10,binsChr11,binsChr12,binsChr13,binsChr14,binsChr15,binsChr16,binsChr17,binsChr18,binsChr19,binsChr20,binsChr21,binsChr22,binsChrX,binsChrY];
const chrOffset = [];
let acc = 0;
for (let i = 0; i < chrLen.length; i++) { chrOffset.push(acc); acc += chrLen[i]; }
const genomeLen = acc;
const chrMid = chrLen.map((l, i) => chrOffset[i] + l / 2);
const Y_MAX = 1.352;

function binColor(v) {
  const t = Math.max(-1, Math.min(1, v / 0.65));
  let r, g, b;
  if (t < 0) { const a = -t; r = 211 + (139 - 211) * a; g = 211 * (1 - a); b = 211 * (1 - a); }
  else { const a = t; r = 211 * (1 - a); g = 211 * (1 - a); b = 211 + (139 - 211) * a; }
  return 'rgb(' + Math.round(r) + ',' + Math.round(g) + ',' + Math.round(b) + ')';
}

const binPoints = [], binColors = [];
chrBins.forEach((arr, ci) => {
  arr.forEach(p => {
    const v = p[1] / 100;
    binPoints.push({ x: chrOffset[ci] + p[0], y: v });
    binColors.push(binColor(v));
  });
});

const segPoints = [];
for (let i = 0; i < segChr.length; i++) {
  const o = chrOffset[segChr[i]];
  segPoints.push({ x: o + segStart[i], y: segValue[i] });
  segPoints.push({ x: o + segEnd[i], y: segValue[i] });
  segPoints.push({ x: o + segEnd[i], y: null });
}

const genePoints = geneNames.map((n, i) => ({ x: chrOffset[geneChr[i]] + genePos[i], y: geneValue[i] }));

const FONT = "'Liberation Sans', Arial, Helvetica, sans-serif";

const decorPlugin = {
  id: 'decor',
  beforeDatasetsDraw(chart) {
    const ctx = chart.ctx, xs = chart.scales.x, ca = chart.chartArea;
    ctx.save();
    ctx.beginPath(); ctx.rect(ca.left, ca.top, ca.right - ca.left, ca.bottom - ca.top); ctx.clip();
    ctx.strokeStyle = '#bebebe';
    ctx.lineWidth = 2;
    ctx.setLineDash([]);
    for (let i = 1; i < chrOffset.length; i++) {
      const px = Math.round(xs.getPixelForValue(chrOffset[i]));
      ctx.beginPath(); ctx.moveTo(px, ca.top); ctx.lineTo(px, ca.bottom); ctx.stroke();
    }
    ctx.setLineDash([8, 5]);
    for (let i = 0; i < chrCentromere.length; i++) {
      const px = Math.round(xs.getPixelForValue(chrOffset[i] + chrCentromere[i]));
      ctx.beginPath(); ctx.moveTo(px, ca.top); ctx.lineTo(px, ca.bottom); ctx.stroke();
    }
    ctx.restore();
  },
  afterDatasetsDraw(chart) {
    const ctx = chart.ctx, xs = chart.scales.x, ys = chart.scales.y;
    ctx.save();
    ctx.fillStyle = '#000';
    ctx.font = '24px ' + FONT;
    ctx.textBaseline = 'middle';
    for (let i = 0; i < geneNames.length; i++) {
      const px = xs.getPixelForValue(genePoints[i].x);
      const py = ys.getPixelForValue(genePoints[i].y);
      ctx.save();
      if (geneValue[i] >= 0) {
        ctx.translate(px, py - 15);
        ctx.rotate(-Math.PI / 2);
        ctx.textAlign = 'left';
      } else {
        ctx.translate(px, py + 15);
        ctx.rotate(-Math.PI / 2);
        ctx.textAlign = 'right';
      }
      ctx.fillText(geneNames[i], 0, 1);
      ctx.restore();
    }
    ctx.restore();
  },
  afterDraw(chart) {
    const ctx = chart.ctx, ca = chart.chartArea;
    ctx.save();
    ctx.strokeStyle = '#000';
    ctx.lineWidth = 2;
    ctx.strokeRect(ca.left, ca.top, ca.right - ca.left, ca.bottom - ca.top);
    ctx.fillStyle = '#000';
    ctx.font = 'bold 29px ' + FONT;
    ctx.textAlign = 'center';
    ctx.textBaseline = 'middle';
    ctx.fillText(chartTitle, (ca.left + ca.right) / 2, 62);
    ctx.restore();
  }
};

Chart.defaults.font.family = FONT;
Chart.defaults.color = '#000';

new Chart(document.getElementById('c'), {
  type: 'scatter',
  data: {
    datasets: [
      { label: 'bins', data: binPoints, order: 3, pointRadius: 2.7, pointHoverRadius: 2.7,
        backgroundColor: binColors, borderWidth: 0, pointBorderWidth: 0 },
      { label: 'segments', data: segPoints, order: 2, showLine: true, spanGaps: false,
        borderColor: '#00008B', borderWidth: 4, pointRadius: 0, pointHoverRadius: 0, borderCapStyle: 'butt' },
      { label: 'genes', data: genePoints, order: 1, pointRadius: 5.5, pointHoverRadius: 5.5,
        backgroundColor: '#000', borderColor: '#000', borderWidth: 0 }
    ]
  },
  options: {
    responsive: false,
    devicePixelRatio: 1,
    animation: false,
    events: [],
    layout: { padding: { top: 123, right: 64, left: 0, bottom: 0 } },
    plugins: { legend: { display: false }, tooltip: { enabled: false }, title: { display: false } },
    scales: {
      x: {
        type: 'linear', min: 0, max: genomeLen,
        afterFit(s) { s.height = 153; },
        afterBuildTicks(s) { s.ticks = chrMid.map(v => ({ value: v })); },
        grid: { display: true, drawOnChartArea: false, drawTicks: true, tickLength: 15, tickColor: '#000', tickWidth: 2 },
        border: { display: true, color: '#000', width: 2 },
        ticks: {
          autoSkip: false, minRotation: 90, maxRotation: 90, padding: 14,
          font: { size: 24 }, color: '#000',
          callback: (v, i) => chrNames[i]
        }
      },
      y: {
        type: 'linear', min: -Y_MAX, max: Y_MAX,
        afterFit(s) { s.width = 123; },
        afterBuildTicks(s) { s.ticks = yTickValues.map(v => ({ value: v })); },
        grid: { display: true, drawOnChartArea: false, drawTicks: true, tickLength: 15, tickColor: '#000', tickWidth: 2 },
        border: { display: true, color: '#000', width: 2 },
        ticks: {
          padding: 14, font: { size: 24 }, color: '#000',
          callback: (v) => { const s = Math.abs(v).toFixed(1); return v < -1e-9 ? '\u2212' + s : s; }
        }
      }
    }
  },
  plugins: [decorPlugin]
});
</script>
</body>
</html>
